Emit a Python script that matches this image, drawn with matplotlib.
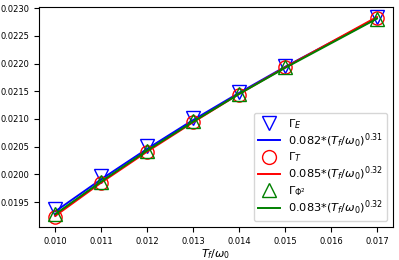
import numpy as np
import matplotlib
matplotlib.use('Agg')
import matplotlib.pyplot as plt

# temperatures T_f/omega_0
tf = [0.010, 0.011, 0.012, 0.013, 0.014, 0.015, 0.017]

# measured rates
gamma_e = [0.01937, 0.01997, 0.02051, 0.02101, 0.02149, 0.02196, 0.02284]
gamma_t = [0.01923, 0.01985, 0.02041, 0.02095, 0.02144, 0.02193, 0.02283]
gamma_phi = [0.01928, 0.01987, 0.02042, 0.02096, 0.02145, 0.02193, 0.02281]

# fitted power laws, read at the same points
fit_e = [0.01933, 0.01991, 0.02046, 0.02098, 0.02147, 0.02194, 0.02282]
fit_t = [0.01925, 0.01985, 0.02041, 0.02094, 0.02145, 0.02193, 0.02284]
fit_phi = [0.01928, 0.01987, 0.02043, 0.02095, 0.02145, 0.02192, 0.02281]

fig, ax = plt.subplots(figsize=(3.99, 2.6), dpi=100)

ax.plot(tf, gamma_e, 'v', ms=9.5, mfc='none', mec='blue', label=r'$\Gamma_E$')
ax.plot(tf, fit_e, '-', color='blue', lw=1.4, label=r'0.082*$(T_f/\omega_0)^{0.31}$')
ax.plot(tf, gamma_t, 'o', ms=9.5, mfc='none', mec='red', label=r'$\Gamma_T$')
ax.plot(tf, fit_t, '-', color='red', lw=1.4, label=r'0.085*$(T_f/\omega_0)^{0.32}$')
ax.plot(tf, gamma_phi, '^', ms=9.5, mfc='none', mec='green', label=r'$\Gamma_{\Phi^2}$')
ax.plot(tf, fit_phi, '-', color='green', lw=1.4, label=r'0.083*$(T_f/\omega_0)^{0.32}$')

ax.set_xlim(0.00965, 0.01735)
ax.set_ylim(0.01905, 0.02302)
ax.set_xticks(np.arange(0.010, 0.0171, 0.001))
ax.set_yticks(np.arange(0.0195, 0.02301, 0.0005))
ax.tick_params(labelsize=6)
ax.set_xlabel(r'$T_f/\omega_0$', fontsize=8, labelpad=1)
ax.legend(loc='lower right', fontsize=8.2, handlelength=2.0, labelspacing=0.08,
          borderpad=0.35, handletextpad=0.7, markerscale=1.05)

fig.subplots_adjust(left=0.098, right=0.985, top=0.973, bottom=0.127)
fig.savefig('out.png')
